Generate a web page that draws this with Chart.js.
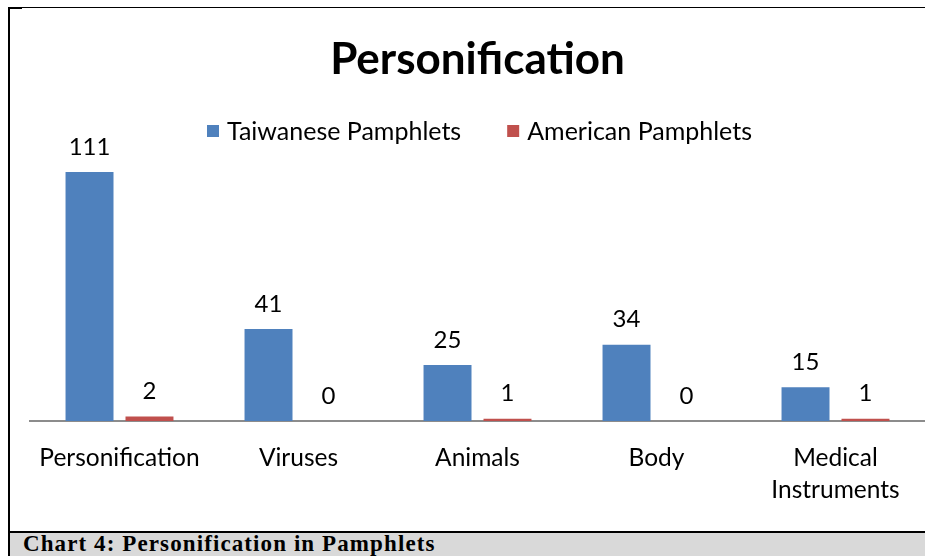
<!DOCTYPE html>
<html>
<head>
<meta charset="utf-8">
<script src="https://cdn.jsdelivr.net/npm/chart.js@4/dist/chart.umd.min.js"></script>
<style>
  html, body { margin: 0; padding: 0; background: #fff; }
  body { width: 925px; height: 556px; position: relative; overflow: hidden; }
  #wrap { position: absolute; left: 0; top: 0; width: 925px; height: 531px; }
  .ln { position: absolute; background: #000; }
  #caption { position: absolute; left: 10px; top: 533px; width: 915px; height: 23px; background: #d9d9d9;
    font-family: "Liberation Serif", serif; font-weight: bold; font-size: 23px; line-height: 22px;
    letter-spacing: 1.1px; padding-left: 13px; box-sizing: border-box; color: #000; white-space: nowrap; }
</style>
</head>
<body>
<div id="wrap"><canvas id="c" width="925" height="531"></canvas></div>
<div class="ln" style="left:8px; top:7px; width:2px; height:549px;"></div>
<div class="ln" style="left:8px; top:7px; width:917px; height:1px;"></div>
<div class="ln" style="left:8px; top:7px; width:14px; height:2px;"></div>
<div class="ln" style="left:8px; top:531px; width:917px; height:2px;"></div>
<div id="caption">Chart 4: Personification in Pamphlets</div>
<script>
const categories = ["Personification", "Viruses", "Animals", "Body", ["Medical", "Instruments"]];
const seriesNames = ["Taiwanese Pamphlets", "American Pamphlets"];
const taiwanese = [111, 41, 25, 34, 15];
const american = [2, 0, 1, 0, 1];
const seriesColors = ['#4f81bd', '#c0504d'];

const FONT = "Lato, 'Open Sans', sans-serif";

const dataLabels = {
  id: 'dataLabels',
  afterDatasetsDraw(chart) {
    const ctx = chart.ctx;
    ctx.save();
    ctx.font = "24px " + FONT;
    ctx.fillStyle = "#000";
    ctx.textAlign = "center";
    ctx.textBaseline = "middle";
    chart.data.datasets.forEach((ds, i) => {
      const meta = chart.getDatasetMeta(i);
      meta.data.forEach((el, j) => {
        ctx.fillText(String(ds.data[j]), el.x, el.y - 25);
      });
    });
    ctx.restore();
  }
};

const customLegend = {
  id: 'customLegend',
  afterDraw(chart) {
    const ctx = chart.ctx;
    const area = chart.chartArea;
    ctx.save();
    ctx.font = "25px " + FONT;
    ctx.textBaseline = "middle";
    ctx.textAlign = "left";
    const box = 12, boxGap = 8, itemGap = 46;
    const ds = chart.data.datasets;
    const widths = ds.map(d => box + boxGap + ctx.measureText(d.label).width);
    const total = widths.reduce((a, b) => a + b, 0) + itemGap * (ds.length - 1);
    let x = (area.left + area.right) / 2 + 2 - total / 2;
    const cy = 131;
    ds.forEach((d, i) => {
      ctx.fillStyle = d.backgroundColor;
      ctx.fillRect(x, cy - box / 2, box, box);
      ctx.fillStyle = '#000';
      ctx.fillText(d.label, x + box + boxGap, cy + 1);
      x += widths[i] + itemGap;
    });
    ctx.restore();
  }
};

new Chart(document.getElementById('c'), {
  type: 'bar',
  data: {
    labels: categories,
    datasets: [
      { label: seriesNames[0], data: taiwanese, backgroundColor: seriesColors[0], borderWidth: 0 },
      { label: seriesNames[1], data: american, backgroundColor: seriesColors[1], borderWidth: 0 }
    ]
  },
  options: {
    responsive: false,
    animation: false,
    devicePixelRatio: 1,
    categoryPercentage: 0.67,
    barPercentage: 0.8,
    layout: { padding: { left: 30, right: 0, top: 33, bottom: 4 } },
    plugins: {
      title: {
        display: true,
        text: 'Personification',
        color: '#000',
        font: { family: FONT, size: 44, weight: 'bold' },
        padding: { top: 0, bottom: 66 }
      },
      legend: { display: false },
      tooltip: { enabled: false }
    },
    scales: {
      x: {
        grid: { display: false, drawTicks: false },
        border: { display: true, color: '#8c8c8c', width: 2 },
        ticks: { color: '#000', font: { family: FONT, size: 24.5, lineHeight: 1.306 }, padding: 21, maxRotation: 0, autoSkip: false }
      },
      y: {
        display: false,
        min: 0,
        max: 120
      }
    }
  },
  plugins: [dataLabels, customLegend]
});
</script>
</body>
</html>
